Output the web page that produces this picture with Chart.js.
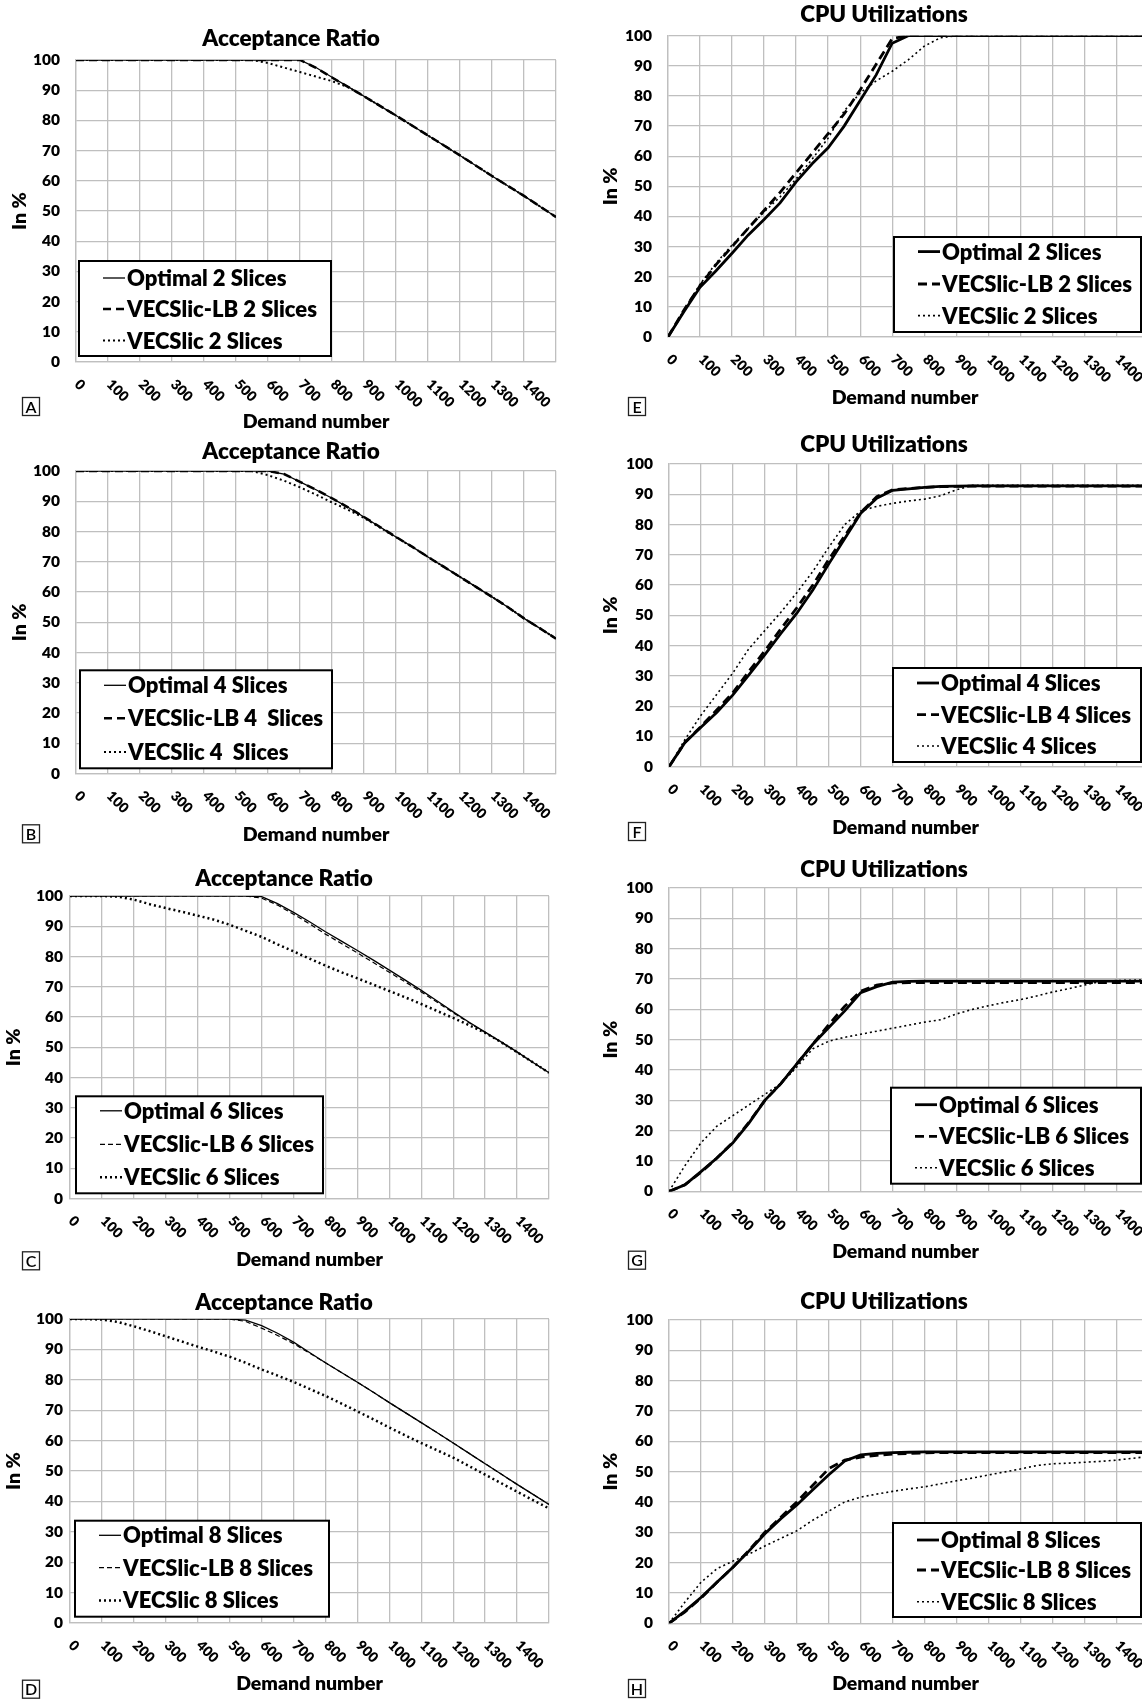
<!DOCTYPE html>
<html>
<head>
<meta charset="utf-8">
<script src="https://cdn.jsdelivr.net/npm/chart.js@4.4.1/dist/chart.umd.min.js"></script>
<style>
body { margin: 0; background: #fff; }
#page { position: relative; width: 1142px; height: 1700px; overflow: hidden; background: #fff; }
canvas { position: absolute; }
</style>
</head>
<body>
<div id="page"></div>
<script>
// demand number, shared x values of every panel
const demand = [0,50,100,150,200,250,300,350,400,450,500,550,600,650,700,750,800,850,900,950,1000,1050,1100,1150,1200,1250,1300,1350,1400,1450,1500];

// acceptance ratio (left column)
const accOpt2 = [100,100,100,100,100,100,100,100,100,100,100,100,100,100,100,97.5,94.3,91.2,88,84.8,81.6,78.3,75,71.7,68.4,65,61.6,58.3,55,51.5,48];
const accLb2  = [100,100,100,100,100,100,100,100,100,100,100,100,100,100,100,97.4,94.2,91.1,88,84.8,81.6,78.3,75,71.7,68.4,65,61.6,58.3,55,51.5,48];
const accVec2 = [100,100,100,100,100,100,100,100,100,100,100,100,99,97.5,96,94.5,93,91,88,84.8,81.6,78.3,75,71.7,68.4,65,61.6,58.3,55,51.5,48];

const accOpt4 = [100,100,100,100,100,100,100,100,100,100,100,100,100,99,96.4,93.8,91,88,84.8,81.5,78.2,75,71.6,68.3,65,61.7,58.4,55,51.3,48,44.6];
const accLb4  = [100,100,100,100,100,100,100,100,100,100,100,100,100,99,96.4,93.8,91,88,84.8,81.5,78.2,75,71.6,68.3,65,61.7,58.4,55,51.3,48,44.6];
const accVec4 = [100,100,100,100,100,100,100,100,100,100,100,100,98.6,96.8,94.6,92.2,89.6,87.2,84.5,81.3,78.1,75,71.6,68.3,65,61.7,58.4,55,51.3,48,44.6];

const accOpt6 = [100,100,100,100,100,100,100,100,100,100,100,100,99.8,97.5,94.6,91.5,88.2,85.1,82,78.8,75.5,72.2,68.8,65.3,61.7,58.3,55,51.8,48.5,45,41.6];
const accLb6  = [100,100,100,100,100,100,100,100,100,100,100,100,99.3,97,94,90.8,87.4,84.3,81.2,78,74.8,71.6,68.3,64.9,61.4,58.1,54.9,51.7,48.4,45,41.6];
const accVec6 = [100,100,100,99.8,98.8,97.3,96,94.8,93.5,92.2,90.5,88.5,86.5,84,81.7,79.3,77,74.8,72.8,70.7,68.6,66.5,64.3,62,59.7,57.3,54.8,51.7,48.4,45,41.6];

const accOpt8 = [100,100,100,100,100,100,100,100,100,100,100,99.6,97.8,95.3,92.4,89,85.6,82.4,79.2,75.9,72.5,69.2,65.9,62.6,59.2,55.8,52.4,49,45.6,42.3,39];
const accLb8  = [100,100,100,100,100,100,100,100,100,100,100,99.2,97,94.6,91.9,88.8,85.6,82.4,79.2,75.9,72.5,69.2,65.9,62.6,59.2,55.8,52.4,49,45.6,42.3,39];
const accVec8 = [100,100,99.8,99,97.6,96,94.3,92.6,90.9,89.3,87.6,85.6,83.4,81.4,79.3,77,74.7,72.2,69.6,67,64.3,61.7,59.2,56.8,54.4,51.6,48.8,46,43.2,40.4,37.7];

// cpu utilization (right column)
const cpuOpt2 = [0,8.5,16.5,22,27.8,33.8,39,44.5,51.5,57.5,62.8,70,78.5,87,97.5,100,100,100,100,100,100,100,100,100,100,100,100,100,100,100,100];
const cpuLb2  = [0,9,17,24,30,36,42,48,54.5,61,67.5,74,82,90.5,99,100,100,100,100,100,100,100,100,100,100,100,100,100,100,100,100];
const cpuVec2 = [0,9,17.5,24.5,30.5,36,41.5,46.5,52.5,59,66,75,81,85,88.2,92,96.5,99.3,100,100,100,100,100,100,100,100,100,100,100,100,100];

const cpuOpt4 = [0,8,13,18,23.7,30.3,37,44,50.7,58.4,67,75.4,83.7,88.7,91.3,91.8,92.3,92.6,92.7,92.8,92.8,92.8,92.8,92.8,92.8,92.8,92.8,92.8,92.8,92.8,92.8];
const cpuLb4  = [0,8,13.3,18.8,24.5,31.5,38.3,45.5,52.5,60,68.5,76.3,84,89.2,91.5,91.9,92.3,92.5,92.6,92.7,92.7,92.7,92.7,92.7,92.7,92.7,92.7,92.7,92.7,92.7,92.7];
const cpuVec4 = [0,9,17,24,31,39,45,51,57.5,64.5,72.5,80,84.5,86,87,87.8,88.4,89.5,91.5,93,93,93,93,93,93,93,93,93,93,93,93];

const cpuOpt6 = [0,2.2,6.5,11,16,22.5,30,35.5,42,48.5,54,59.5,65.5,67.5,69,69.2,69.3,69.3,69.3,69.3,69.3,69.3,69.3,69.3,69.3,69.3,69.3,69.3,69.3,69.3,69.3];
const cpuLb6  = [0,2.2,6.3,11,16.2,22.8,30,35.5,42,48.5,55,61,66,68,68.7,68.8,68.8,68.8,68.8,68.8,68.8,68.8,68.8,68.8,68.8,68.8,68.8,68.8,68.8,68.8,68.8];
const cpuVec6 = [0,8.5,16,21.5,25,28.5,32,35.5,41,47,49.5,50.8,51.8,52.8,53.8,54.8,55.8,56.6,58.5,60,61.2,62.3,63.2,64.4,65.7,66.8,68,69.2,69.5,69.6,69.7];

const cpuOpt8 = [0,4,8.5,13.5,18.5,23.8,29.5,34.5,39,44,49,53.5,55.5,56,56.3,56.4,56.5,56.5,56.5,56.5,56.5,56.5,56.5,56.5,56.5,56.5,56.5,56.5,56.5,56.5,56.5];
const cpuLb8  = [0,3.8,8.3,13.5,18.5,24,30,35,40,45.5,51,53.8,54.8,55.4,55.8,56,56.2,56.3,56.3,56.3,56.3,56.3,56.3,56.3,56.3,56.3,56.3,56.3,56.3,56.3,56.3];
const cpuVec8 = [0,7,13.5,18,20.5,22.8,25.5,28,30.5,34,37,40,41.6,42.6,43.5,44.3,45,46,47,47.9,48.9,49.9,50.9,52,52.6,52.8,53.1,53.4,53.8,54.4,55];

// legend texts
const names2 = ['Optimal 2 Slices', 'VECSlic-LB 2 Slices', 'VECSlic 2 Slices'];
const names4acc = ['Optimal 4 Slices', 'VECSlic-LB 4  Slices', 'VECSlic 4  Slices'];
const names4 = ['Optimal 4 Slices', 'VECSlic-LB 4 Slices', 'VECSlic 4 Slices'];
const names6 = ['Optimal 6 Slices', 'VECSlic-LB 6 Slices', 'VECSlic 6 Slices'];
const names8 = ['Optimal 8 Slices', 'VECSlic-LB 8 Slices', 'VECSlic 8 Slices'];

const FONT = 'Lato, "Open Sans", sans-serif';
const W = 800; // heavy weight, close to calibri bold
Chart.defaults.font.family = FONT;
Chart.defaults.font.weight = W;
Chart.defaults.color = '#000';

const GRID = '#bfbfbf';

// line width / dash for optimal, LB, VECSlic
const lineStyles = {
    accThick: [{w: 1.3, dash: []}, {w: 2.5, dash: [8, 5]}, {w: 2, dash: [2, 3]}],
    accThin:  [{w: 1.3, dash: []}, {w: 1.2, dash: [5, 3]}, {w: 2.5, dash: [2, 3]}],
    cpu:      [{w: 2.8, dash: []}, {w: 2.8, dash: [9, 5]}, {w: 1.6, dash: [2, 3]}]
};

// page positions of each panel (plot = left, top, right, bottom)
const panels = [
    {id: 'A', col: 0, title: 'Acceptance Ratio', style: 'accThick', series: [accOpt2, accLb2, accVec2], names: names2,
     plot: [76, 60, 556, 362], titleXY: [291, 39], xTitleY: 422, yTitleX: 20, letter: [22, 397],
     legend: [79, 261, 331, 356], rows: [278, 309, 340.5], tickPad: 16},
    {id: 'B', col: 0, title: 'Acceptance Ratio', style: 'accThick', series: [accOpt4, accLb4, accVec4], names: names4acc,
     plot: [76, 470.7, 556, 773.3], titleXY: [291, 451.7], xTitleY: 835, yTitleX: 20, letter: [22, 824],
     legend: [80, 670, 332, 768], rows: [685, 718, 751.6], tickPad: 16},
    {id: 'C', col: 0, title: 'Acceptance Ratio', style: 'accThin', series: [accOpt6, accLb6, accVec6], names: names6,
     plot: [70, 895.7, 549, 1198.3], titleXY: [284, 878], xTitleY: 1260, yTitleX: 14, letter: [22, 1251],
     legend: [76, 1096, 323, 1193], rows: [1110.5, 1144, 1177], tickPad: 7},
    {id: 'D', col: 0, title: 'Acceptance Ratio', style: 'accThin', series: [accOpt8, accLb8, accVec8], names: names8,
     plot: [70, 1319.3, 549, 1623.3], titleXY: [284, 1303], xTitleY: 1684, yTitleX: 14, letter: [22, 1680],
     legend: [75, 1521, 329, 1617], rows: [1535.6, 1568, 1600.7], tickPad: 7},
    {id: 'E', col: 1, title: 'CPU Utilizations', style: 'cpu', series: [cpuOpt2, cpuLb2, cpuVec2], names: names2,
     plot: [668, 35.7, 1142, 337], titleXY: [884, 15], xTitleY: 398, yTitleX: 611, letter: [628, 397],
     legend: [894, 237, 1141, 332], rows: [251.6, 284, 315.6], tickPad: 16},
    {id: 'F', col: 1, title: 'CPU Utilizations', style: 'cpu', series: [cpuOpt4, cpuLb4, cpuVec4], names: names4,
     plot: [669, 464, 1142, 766.7], titleXY: [884, 445], xTitleY: 827.5, yTitleX: 611, letter: [628, 822],
     legend: [893, 668, 1141, 762], rows: [683, 714.7, 746], tickPad: 16},
    {id: 'G', col: 1, title: 'CPU Utilizations', style: 'cpu', series: [cpuOpt6, cpuLb6, cpuVec6], names: names6,
     plot: [669, 888.3, 1142, 1191.7], titleXY: [884, 870], xTitleY: 1252.6, yTitleX: 611, letter: [628, 1251],
     legend: [891, 1088, 1141, 1184], rows: [1105, 1136.6, 1168], tickPad: 16},
    {id: 'H', col: 1, title: 'CPU Utilizations', style: 'cpu', series: [cpuOpt8, cpuLb8, cpuVec8], names: names8,
     plot: [669, 1320, 1142, 1623.3], titleXY: [884, 1301.7], xTitleY: 1684, yTitleX: 611, letter: [628, 1679],
     legend: [893, 1523, 1141, 1617], rows: [1540, 1570, 1601.8], tickPad: 16}
];
const panelById = {};

// draws the excel-like bits: boxed legend, title, slanted x labels, panel letter
const decor = {
    id: 'decor',
    afterDatasetsDraw(chart) {
        const p = panelById[chart.canvas.id];
        const ctx = chart.ctx;
        const x1 = p.legend[0] - p.cx, y1 = p.legend[1] - p.cy;
        const x2 = p.legend[2] - p.cx, y2 = p.legend[3] - p.cy;
        ctx.save();
        ctx.fillStyle = '#fff';
        ctx.fillRect(x1, y1, x2 - x1, y2 - y1);
        ctx.strokeStyle = '#000';
        ctx.lineWidth = 2;
        ctx.strokeRect(x1, y1, x2 - x1, y2 - y1);
        ctx.font = W + ' 22px ' + FONT;
        ctx.textBaseline = 'middle';
        ctx.textAlign = 'left';
        ctx.fillStyle = '#000';
        chart.data.datasets.forEach((ds, i) => {
            const y = p.rows[i] - p.cy;
            ctx.beginPath();
            ctx.setLineDash(ds.borderDash);
            ctx.lineWidth = ds.borderWidth;
            ctx.moveTo(x1 + 24, y);
            ctx.lineTo(x1 + 46, y);
            ctx.stroke();
            ctx.setLineDash([]);
            ctx.fillText(ds.label, x1 + 48, y + 1);
        });
        ctx.restore();
    },
    afterDraw(chart) {
        const p = panelById[chart.canvas.id];
        const ctx = chart.ctx;
        ctx.save();
        ctx.fillStyle = '#000';
        // title
        ctx.font = W + ' 22.5px ' + FONT;
        ctx.textAlign = 'center';
        ctx.textBaseline = 'middle';
        ctx.fillText(p.title, p.titleXY[0] - p.cx, p.titleXY[1] - p.cy);
        // slanted tick labels
        const xs = chart.scales.x;
        ctx.font = W + ' 14px ' + FONT;
        ctx.textAlign = 'left';
        xs.ticks.forEach(t => {
            if (t.value > 1400) return;
            ctx.save();
            ctx.translate(xs.getPixelForValue(t.value) + 1, chart.chartArea.bottom + 20);
            ctx.rotate(Math.PI / 4);
            ctx.fillText(String(t.value), 0, 0);
            ctx.restore();
        });
        // letter box
        const lx = p.letter[0] - p.cx, ly = p.letter[1] - p.cy;
        ctx.strokeStyle = '#222';
        ctx.lineWidth = 1.3;
        ctx.strokeRect(lx + 0.5, ly + 0.5, 17, 18);
        ctx.font = '600 16px ' + FONT;
        ctx.textAlign = 'center';
        ctx.fillText(p.id, lx + 9, ly + 10.5);
        ctx.restore();
    }
};

function makeChart(p) {
    const left = p.col ? 571 : 0;
    const top = Math.max(0, p.plot[1] - 60);
    const bottom = p.xTitleY + 20;
    const canvas = document.createElement('canvas');
    canvas.id = 'panel' + p.id;
    canvas.width = 571;
    canvas.height = Math.round(bottom - top);
    canvas.style.left = left + 'px';
    canvas.style.top = top + 'px';
    document.getElementById('page').appendChild(canvas);
    p.cx = left;
    p.cy = top;
    panelById[canvas.id] = p;

    const st = lineStyles[p.style];
    const datasets = p.series.map((s, i) => ({
        label: p.names[i],
        data: demand.map((d, j) => ({x: d, y: s[j]})),
        borderColor: '#000',
        borderWidth: st[i].w,
        borderDash: st[i].dash,
        pointRadius: 0,
        fill: false,
        tension: 0
    }));

    return new Chart(canvas, {
        type: 'line',
        data: {datasets: datasets},
        options: {
            responsive: false,
            animation: false,
            layout: {padding: {top: p.plot[1] - top, right: left + 571 - p.plot[2], left: 0, bottom: 0}},
            plugins: {legend: {display: false}, title: {display: false}, tooltip: {enabled: false}},
            scales: {
                x: {
                    type: 'linear', min: 0, max: p.col ? 1480 : 1500,
                    ticks: {display: false, stepSize: 100, includeBounds: false},
                    grid: {color: GRID, lineWidth: 1.3, drawTicks: false},
                    border: {color: GRID, width: 1.3},
                    title: {display: true, text: 'Demand number', font: {size: 19.5, weight: W}, padding: {top: 0, bottom: 8.3}},
                    afterFit: s => { s.height = canvas.height - (p.plot[3] - top); }
                },
                y: {
                    min: 0, max: 100,
                    ticks: {stepSize: 10, padding: p.tickPad, font: {size: 15.5, weight: W}},
                    grid: {color: GRID, lineWidth: 1.3, drawTicks: false},
                    border: {color: GRID, width: 1.3},
                    title: {display: true, text: 'In %', font: {size: 19.5, weight: W}, padding: {top: p.yTitleX - left - 11.7, bottom: 0}},
                    afterFit: s => { s.width = p.plot[0] - left; }
                }
            }
        },
        plugins: [decor]
    });
}

panels.forEach(makeChart);
</script>
</body>
</html>
